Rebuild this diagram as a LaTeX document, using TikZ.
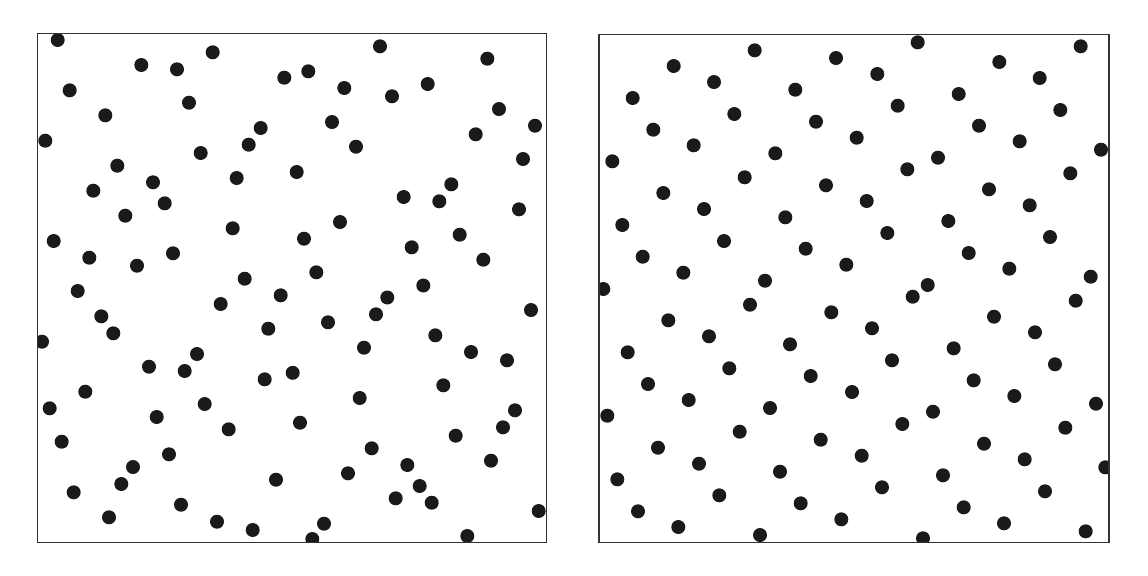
\documentclass[tikz,border=0pt]{standalone}
\begin{document}
\begin{tikzpicture}[x=0.5pt,y=-0.5pt,
  dot/.style={fill=dotc},
  frame/.style={draw=framec,line width=0.8pt}]
\definecolor{dotc}{HTML}{1A1A1A}
\definecolor{framec}{HTML}{333333}
\useasboundingbox (0,0) rectangle (1148,575);
% left box
\begin{scope}
\clip (37.5,33.5) rectangle (546.5,542.5);
\foreach \x/\y in {57.7/40, 141.3/65, 177/69.3, 212.7/52.3, 284.3/77.7, 308.3/71.3, 380/46.3, 487.3/58.7,
69.7/90.3, 189/102.7, 344.3/88, 392/96.3, 427.7/84, 105.3/115.3, 499/109, 260.7/128, 332/122, 45.3/140.7,
248.7/144.7, 535/125.7, 475.7/134.3, 356/146.7, 200.7/153, 523/159, 117.3/165.7, 296.7/172, 153/182.3,
236.7/178, 451.3/184.3, 93.3/190.7, 164.7/203.3, 403.7/197, 439.3/201.3, 125.3/215.7, 519/209.3,
232.7/228.3, 340/222, 53.7/241, 304/238.7, 459.7/234.7, 89.3/257.7, 173/253.3, 137/265.7, 411.7/247.3,
483.3/259.7, 244.7/278.7, 316.3/272.3, 77.7/291, 280.7/295.3, 423.3/285.5, 387.3/297.5, 220.7/304,
531/310, 101.3/316.3, 376/314.3, 113.3/333.3, 268.3/328.7, 328/322.3, 42/341.7, 435.3/335.3, 197/354,
364/347.7, 471/352, 507/360.3, 149/366.7, 184.7/371, 264.7/379.3, 292.7/372.8, 443.3/385.3, 85.3/391.7,
49.7/408.3, 204.7/404, 359.7/398, 515/410.3, 156.7/417, 300/422.7, 228.7/429.3, 503/427.3, 455.7/435.7,
61.7/441.7, 169/454.3, 371.7/448.3, 133/467, 491/460.7, 407.3/465, 276/479.7, 348/473.3, 121.3/484,
419.7/486, 73.7/492.3, 395.7/498.3, 431.7/502.7, 181/504.7, 538.7/511, 109/517.3, 217/521.7, 324/523.7,
252.7/530, 312.3/539, 467.3/536}
  \fill[dot] (\x,\y) circle (7);
\end{scope}
\draw[frame] (37.5,33.5) rectangle (546.5,542.5);
% right box
\begin{scope}
\clip (599,34.5) rectangle (1109,542.5);
\foreach \x/\y in {754.7/50.3, 836/58, 673.7/66, 714/82, 795.3/89.7, 632.7/98, 734.3/114, 816/121.7,
653.3/129.7, 856.7/137.7, 693.7/145.3, 775.3/153.3, 612.3/161.3, 744.7/177.3, 826/185.3, 663.3/193,
704/209, 785.3/217.3, 866.7/201, 622.3/225, 724/241, 805.7/248.7, 642.7/256.7, 846.3/264.7, 683.3/272.7,
765/280.7, 603.3/289,
917.7/42.3, 1080.7/46.3, 999.3/62, 877.3/74, 1039.7/78, 958.7/94, 897.7/105.7, 1060.3/110, 979/125.7,
1019.7/141.3, 1101/149.7, 938/157.7, 907.3/169.3, 1070.3/173.3, 989/189.3, 1029.7/205.3, 948.3/221,
887.3/233, 1050/237, 968.7/253, 1009.3/268.7, 1090.7/276.7, 927.7/285,
750/304.7, 831.3/312.3, 668.3/320.3, 709/336.3, 790/344.3, 627.7/352.3, 729.3/368.3, 810.7/376, 648/384,
852/392, 688.7/400, 770/408, 607.3/415.7, 739.7/431.7, 820.7/439.7, 658/447.7, 861.7/455.7, 699/463.7,
780/471.7, 617.3/479.3, 719.3/495.3, 800.7/503.3, 638/511.3, 841.3/519.3, 678.3/527, 760/535,
912.7/296.7, 1075.7/300.7, 994/316.7, 872/328.3, 1035/332.3, 953.7/348.3, 892/360.3, 1055/364.3,
973.7/380.3, 1014.3/396, 1096/403.7, 933/411.7, 902.3/424, 1065.3/427.7, 984/443.7, 1024.7/459.3,
1105.3/467.3, 943/475.3, 882/487.3, 1045/491.3, 963.7/507.3, 1004/523.3, 1085.7/531.3, 923/538.3}
  \fill[dot] (\x,\y) circle (7);
\end{scope}
\draw[frame] (599,34.5) rectangle (1109,542.5);
\end{tikzpicture}
\end{document}
